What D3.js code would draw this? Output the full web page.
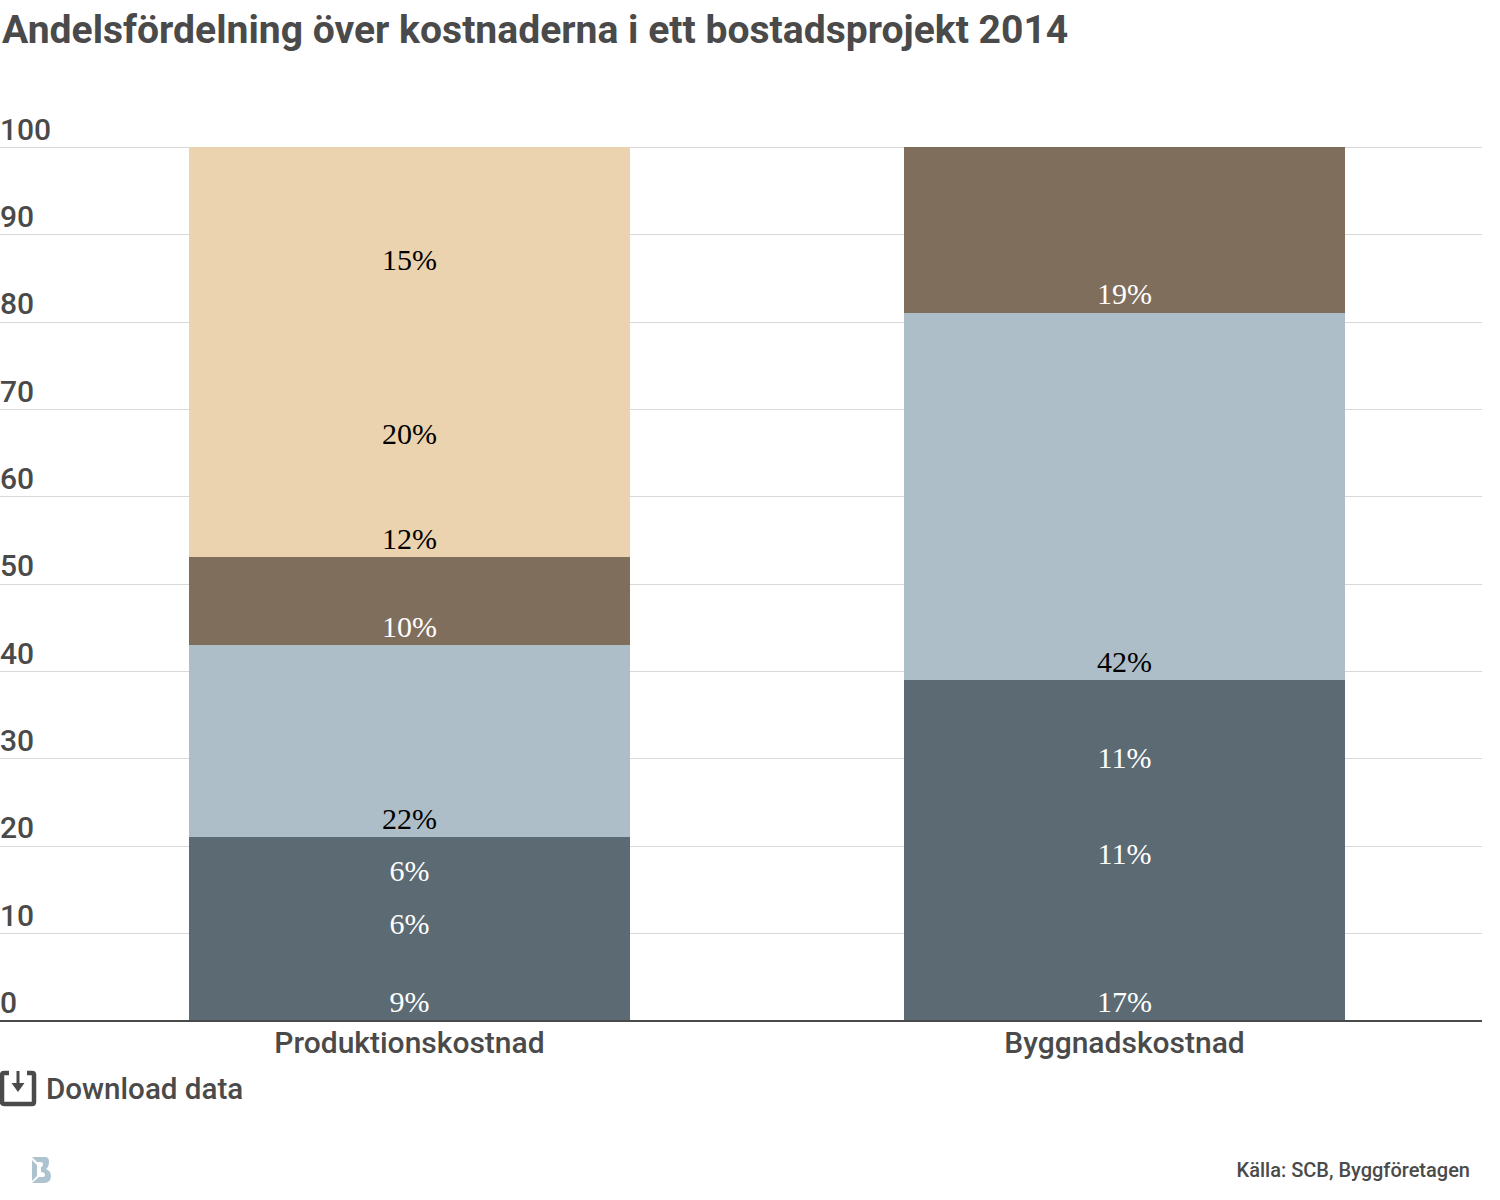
<!DOCTYPE html>
<html><head><meta charset="utf-8">
<script src="https://cdn.jsdelivr.net/npm/d3@7"></script>
<style>
html,body{margin:0;padding:0;background:#fff}
svg{display:block}
text{font-family:Roboto,sans-serif;fill:#4a4a4a}
</style></head><body>
<div id="chart"></div>
<script>
const titleText = "Andelsfördelning över kostnaderna i ett bostadsprojekt 2014";
const categories = ["Produktionskostnad", "Byggnadskostnad"];
const produktionValues = [9, 6, 6, 22, 10, 12, 20, 15];
const produktionKinds = ["dark", "dark", "dark", "blue", "brown", "tan", "tan", "tan"];
const byggnadValues = [17, 11, 11, 42, 19];
const byggnadKinds = ["dark", "dark", "dark", "blue", "brown"];
const yTicks = [0, 10, 20, 30, 40, 50, 60, 70, 80, 90, 100];
const kindColors = {dark: "#5c6b73", blue: "#adbec8", brown: "#7f6e5c", tan: "#ead3ae"};
const labelColors = {dark: "#ffffff", blue: "#000000", brown: "#ffffff", tan: "#000000"};
const sourceText = "Källa: SCB, Byggföretagen";
const downloadText = "Download data";

const svg = d3.select("#chart").append("svg").attr("width", 1500).attr("height", 1200);

svg.append("text").attr("x", 2).attr("y", 43)
  .attr("font-size", 39.1).attr("font-weight", 700).text(titleText);

const y = d3.scaleLinear().domain([0, 100]).range([1021, 147]);
const yGrid = d3.scaleLinear().domain([0, 100]).range([1021, 147.5]);
const x = d3.scaleBand().domain(categories).range([52, 1482]).paddingInner(0.383).paddingOuter(0.1915);

const yAxis = svg.append("g").attr("class", "y");
yAxis.selectAll("line").data(yTicks.filter(d => d > 0)).join("line")
  .attr("x1", 0).attr("x2", 1482).attr("y1", d => Math.floor(yGrid(d)) + 0.5).attr("y2", d => Math.floor(yGrid(d)) + 0.5)
  .attr("stroke", "#d9d9d9").attr("stroke-width", 1);
yAxis.selectAll("text").data(yTicks).join("text")
  .attr("x", 0).attr("y", d => yGrid(d) - 8).attr("font-size", 30).attr("font-weight", 500).text(d => d);

const rows = [];
[[categories[0], produktionValues, produktionKinds], [categories[1], byggnadValues, byggnadKinds]].forEach(([cat, vals, kinds]) => {
  let acc = 0;
  vals.forEach((v, i) => { rows.push({cat, v, kind: kinds[i], y0: acc, y1: acc + v}); acc += v; });
});

svg.append("g").selectAll("rect").data(rows).join("rect")
  .attr("x", d => x(d.cat)).attr("width", x.bandwidth())
  .attr("y", d => Math.floor(y(d.y1))).attr("height", d => Math.floor(y(d.y0)) - Math.floor(y(d.y1)))
  .attr("shape-rendering", "crispEdges")
  .attr("fill", d => kindColors[d.kind]);

svg.append("g").selectAll("text").data(rows).join("text")
  .attr("x", d => x(d.cat) + x.bandwidth() / 2).attr("y", d => y(d.y0) - 8.6)
  .attr("text-anchor", "middle").attr("font-size", 30)
  .style("font-family", "'Liberation Serif',serif")
  .style("fill", d => labelColors[d.kind]).text(d => d.v + "%");

svg.append("line").attr("x1", 0).attr("x2", 1482).attr("y1", y(0)).attr("y2", y(0))
  .attr("stroke", "#4a4a4a").attr("stroke-width", 2);

svg.append("g").selectAll("text").data(categories).join("text")
  .attr("x", d => x(d) + x.bandwidth() / 2).attr("y", 1053)
  .attr("text-anchor", "middle").attr("font-size", 30).attr("font-weight", 500).text(d => d);

// download icon
const icon = svg.append("g");
icon.append("path").attr("d", "M9 1073 H4 Q2 1073 2 1075 V1102 Q2 1104 4 1104 H32 Q34 1104 34 1102 V1075 Q34 1073 32 1073 H27")
  .attr("fill", "none").attr("stroke", "#4a4a4a").attr("stroke-width", 4.5);
icon.append("path").attr("d", "M16.5 1071 H19.5 V1083 H24.5 L18 1092 L11.5 1083 H16.5 Z").attr("fill", "#4a4a4a");
svg.append("text").attr("x", 46).attr("y", 1099).attr("font-size", 29.6).attr("font-weight", 500).text(downloadText);

// logo
svg.append("path").attr("d", "M32 1157 H45 Q49 1157 49 1162 Q49 1167 46 1169 Q51 1171 51 1176 Q51 1183 44 1183 H32 L39 1177 H43 Q45 1177 45 1175 Q45 1172 41 1172 V1167 Q43 1167 43 1164 Q43 1162 40 1162 H37 Z M32 1160 L37 1165 V1176 L32 1181 Z")
  .attr("fill", "#adc3cf");

svg.append("text").attr("x", 1470).attr("y", 1177).attr("text-anchor", "end").attr("font-size", 20).attr("font-weight", 500).text(sourceText);
</script>
</body></html>
